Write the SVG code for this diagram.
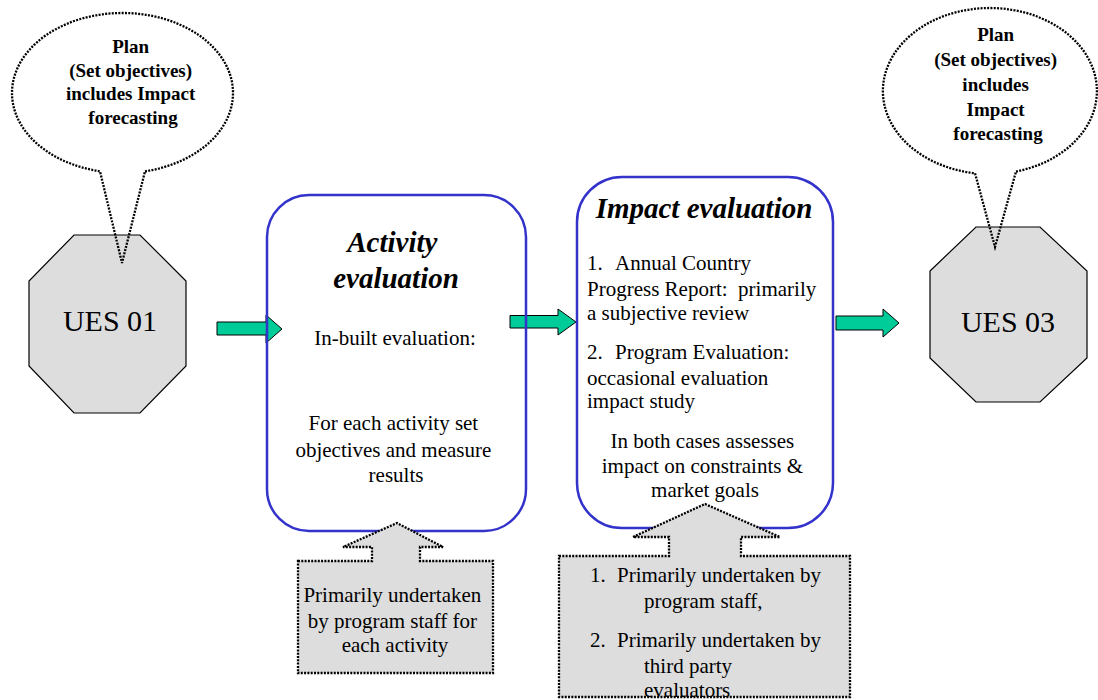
<svg xmlns="http://www.w3.org/2000/svg" width="1098" height="700" viewBox="0 0 1098 700">
  <style>
    text { fill: #000; font-family: "Liberation Serif", "Times New Roman", serif; }
    .body { font-size: 21px; }
    .bold { font-size: 19px; font-weight: bold; }
    .title { font-size: 29px; font-weight: bold; font-style: italic; }
    .ues { font-size: 30px; }
    .octagon { fill: #dddddd; stroke: #000; stroke-width: 1.2; }
    .dotted { stroke: #000; stroke-width: 2.3; stroke-dasharray: 2 1.3; }
    .balloon { fill: none; }
    .callout { fill: #dddddd; }
    .box { fill: none; stroke: #3333cc; stroke-width: 2.5; }
    .arrow { fill: #00cc99; stroke: #000; stroke-width: 1; }
  </style>

  <!-- start state -->
  <g id="ues01">
    <polygon class="octagon" points="74,235 140,235 186,281 186,366 140,413 74,413 29,366 29,281"/>
    <text class="ues" x="110" y="331" text-anchor="middle">UES 01</text>
  </g>

  <!-- end state -->
  <g id="ues03">
    <polygon class="octagon" points="976,227 1040,227 1087,271 1087,358 1040,402 976,402 930,358 930,271"/>
    <text class="ues" x="1008" y="332" text-anchor="middle">UES 03</text>
  </g>

  <!-- planning thought bubbles -->
  <g id="plan-left">
    <path class="balloon dotted" d="M145,171.3 A110.5,80 0 1 0 100,171.3 L122,263 Z"/>
    <text class="bold" text-anchor="middle">
      <tspan x="133" y="53">Plan</tspan>
      <tspan x="133" y="77">(Set objectives)</tspan>
      <tspan x="133" y="100">includes Impact</tspan>
      <tspan x="133" y="124">forecasting</tspan>
    </text>
  </g>

  <g id="plan-right">
    <path class="balloon dotted" d="M1016,171.5 A107,83 0 1 0 975,173.2 L995,247 Z"/>
    <text class="bold" text-anchor="middle">
      <tspan x="998" y="41">Plan</tspan>
      <tspan x="998" y="66">(Set objectives)</tspan>
      <tspan x="998" y="91">includes</tspan>
      <tspan x="998" y="116">Impact</tspan>
      <tspan x="998" y="140">forecasting</tspan>
    </text>
  </g>

  <!-- flow arrows -->
  <g id="connectors">
    <polygon class="arrow" points="217,322 266,322 266,315 282,329 266,343 266,335 217,335"/>
    <polygon class="arrow" points="510,315.5 558,315.5 558,309 576,322 558,335 558,328 510,328"/>
    <polygon class="arrow" points="836,316 883,316 883,309 899,323 883,337 883,330 836,330"/>
  </g>

  <!-- activity evaluation -->
  <g id="activity-evaluation">
    <rect class="box" x="267" y="195" width="259" height="336" rx="42" ry="42"/>
    <text class="title" text-anchor="middle">
      <tspan x="396" y="252">Activity</tspan>
      <tspan x="396" y="288">evaluation</tspan>
    </text>
    <text class="body" x="395" y="345" text-anchor="middle" font-size="22">In-built evaluation:</text>
    <text class="body" text-anchor="middle">
      <tspan x="396" y="430">For each activity set</tspan>
      <tspan x="396" y="457">objectives and measure</tspan>
      <tspan x="396" y="482">results</tspan>
    </text>
  </g>

  <!-- impact evaluation -->
  <g id="impact-evaluation">
    <rect class="box" x="577" y="177" width="256" height="351" rx="45" ry="45"/>
    <text class="title" x="704" y="218" text-anchor="middle">Impact evaluation</text>
    <text class="body">
      <tspan x="587" y="270">1.</tspan><tspan x="615" y="270">Annual Country</tspan>
      <tspan x="587" y="296" xml:space="preserve">Progress Report:  primarily</tspan>
      <tspan x="587" y="320">a subjective review</tspan>
      <tspan x="587" y="359">2.</tspan><tspan x="615" y="359">Program Evaluation:</tspan>
      <tspan x="587" y="385">occasional evaluation</tspan>
      <tspan x="587" y="408">impact study</tspan>
    </text>
    <text class="body" text-anchor="middle">
      <tspan x="705" y="448">In both cases assesses</tspan>
      <tspan x="705" y="473">impact on constraints &amp;</tspan>
      <tspan x="705" y="497">market goals</tspan>
    </text>
  </g>

  <!-- who carries out each evaluation -->
  <g id="note-activity">
    <path class="callout dotted" d="M298,561 L372,561 L372,547 L343,547 L397,523 L443,547 L420,547 L420,561 L493,561 L493,673 L298,673 Z"/>
    <text class="body" text-anchor="middle">
      <tspan x="395" y="602">Primarily undertaken</tspan>
      <tspan x="395" y="628">by program staff for</tspan>
      <tspan x="395" y="652">each activity</tspan>
    </text>
  </g>

  <g id="note-impact">
    <path class="callout dotted" d="M559,556 L669,556 L669,537 L633,537 L705,504 L780,537 L741,537 L741,556 L850,556 L850,697 L559,697 Z"/>
    <text class="body">
      <tspan x="590" y="582">1.</tspan><tspan x="617" y="582">Primarily undertaken by</tspan>
      <tspan x="644" y="608">program staff,</tspan>
      <tspan x="590" y="647">2.</tspan><tspan x="617" y="647">Primarily undertaken by</tspan>
      <tspan x="644" y="673">third party</tspan>
      <tspan x="644" y="697">evaluators</tspan>
    </text>
  </g>
</svg>
